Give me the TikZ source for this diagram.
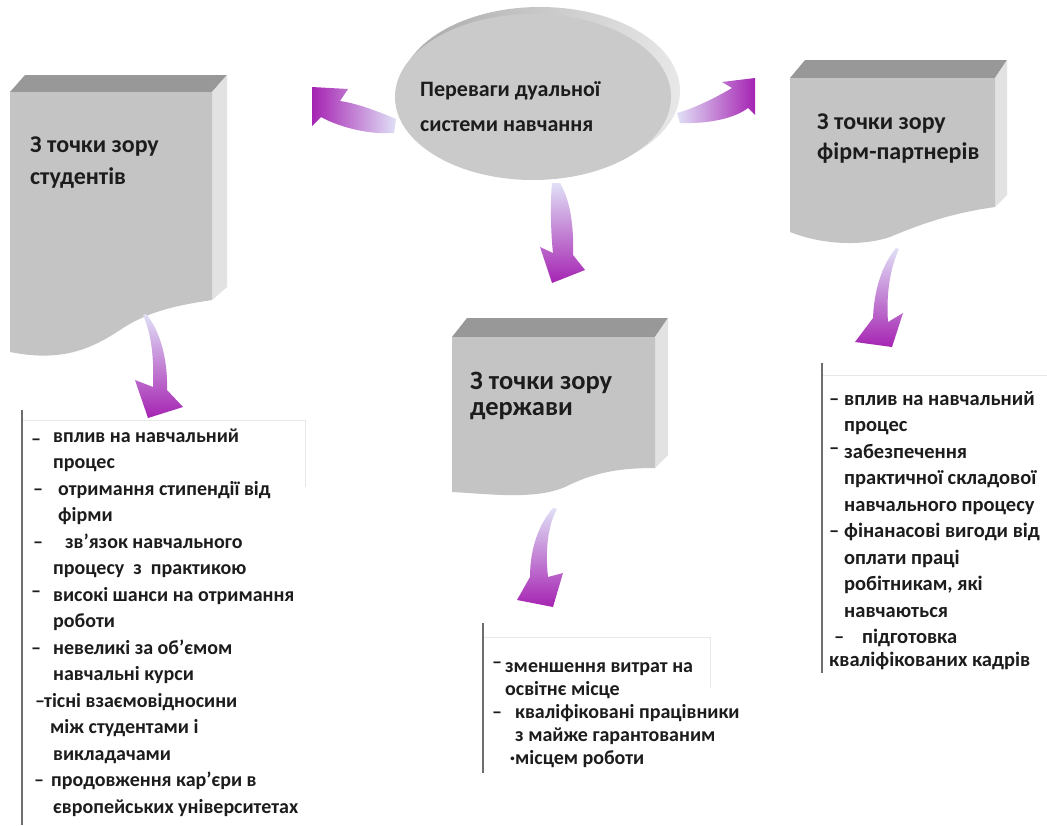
\documentclass[tikz,border=0pt]{standalone}
\usepackage{fontspec}
\setmainfont{Carlito}
\usetikzlibrary{shapes.geometric}
\definecolor{face}{RGB}{196,196,196}
\definecolor{facetop}{RGB}{152,152,152}
\definecolor{faceside}{RGB}{226,226,226}
\definecolor{ellfront}{RGB}{202,202,202}
\definecolor{ellrimA}{RGB}{168,168,168}
\definecolor{ellrimB}{RGB}{232,232,232}
\definecolor{lav}{RGB}{224,224,246}
\definecolor{purp}{RGB}{165,35,178}
\definecolor{txt}{RGB}{28,28,28}
\definecolor{vline}{RGB}{110,110,110}
\definecolor{faint}{RGB}{232,232,232}
\begin{document}
\begin{tikzpicture}[x=1pt,y=-1pt,
  title/.style={font=\fontsize{24}{32}\selectfont\bfseries, text=txt, align=left, anchor=base west, inner sep=0pt},
  listtext/.style={font=\fontsize{20}{26.5}\selectfont\bfseries, text=txt, anchor=base west, inner sep=0pt},
  listsmall/.style={font=\fontsize{20}{23}\selectfont\bfseries, text=txt, anchor=base west, inner sep=0pt},
  frontface/.style={fill=face},
  topface/.style={fill=facetop},
  sideface/.style={fill=faceside},
  leftbar/.style={draw=vline, line width=2.5pt},
  faintline/.style={draw=faint, line width=1pt},
  darr/.style={top color=lav, bottom color=purp},
  larr/.style={left color=purp, right color=lav},
  rarr/.style={left color=lav, right color=purp}]
\useasboundingbox (0,0) rectangle (1047,825);
\fill[white] (0,0) rectangle (1047,825);

% ---------- central ellipse ----------
\shade[left color=ellrimA, right color=ellrimB] (540,91) ellipse [x radius=140, y radius=84];
\node[ellipse, fill=ellfront, minimum width=276pt, minimum height=166pt, inner sep=0pt] (ell) at (533,97) {};
\node[title, font=\fontsize{22}{35}\selectfont\bfseries] (elltext) at (420,131) {Переваги дуальної\\системи навчання};

% ---------- left box ----------
\path[topface] (10,92) -- (25,75) -- (227,75) -- (212,92) -- cycle;
\path[sideface] (212,92) -- (227,75) -- (227,287) -- (212,300) -- cycle;
\path[frontface] (10,92) -- (212,92) -- (212,300)
  .. controls (180,305) and (150,310) .. (120,330)
  .. controls (90,350) and (60,362) .. (10,352) -- cycle;
\node[title] (lefttitle) at (30,184) {З точки зору\\студентів};

% ---------- right box ----------
\path[topface] (790,78) -- (805,60) -- (1007,60) -- (995,78) -- cycle;
\path[sideface] (995,78) -- (1007,60) -- (1007,195) -- (995,207) -- cycle;
\path[frontface] (790,78) -- (995,78) -- (995,207)
  .. controls (960,212) and (930,220) .. (890,237)
  .. controls (860,247) and (820,244) .. (790,232) -- cycle;
\node[title, font=\fontsize{24}{30}\selectfont\bfseries] (righttitle) at (817,159) {З точки зору\\фірм-партнерів};

% ---------- middle box ----------
\path[topface] (452,337) -- (467,318) -- (668,318) -- (655,337) -- cycle;
\path[sideface] (655,337) -- (668,318) -- (668,455) -- (655,468) -- cycle;
\path[frontface] (452,337) -- (655,337) -- (655,468)
  .. controls (620,468) and (595,472) .. (565,487)
  .. controls (535,500) and (490,494) .. (452,492) -- cycle;
\node[title, font=\fontsize{26.5}{26}\selectfont\bfseries] (midtitle) at (470,415) {З точки зору\\держави};

% ---------- arrows ----------
% ellipse -> left
\shade[larr] (396,119) .. controls (375,110) and (355,103) .. (340,101)
  -- (348,89) -- (312,87) -- (312,126) -- (321,117)
  .. controls (335,125) and (365,135) .. (394,133) -- cycle;
% ellipse -> right
\shade[rarr] (677,113) .. controls (695,108) and (715,98) .. (732,88)
  -- (722,82) -- (755,78) -- (755,115) -- (748,108)
  .. controls (735,118) and (710,124) .. (680,123) -- cycle;
% ellipse -> down
\shade[darr] (552,183) .. controls (550,205) and (551,235) .. (553,253)
  -- (540,247) -- (552,283) -- (585,270) -- (573,255)
  .. controls (574,225) and (570,200) .. (560,183) -- cycle;
% left box -> list
\shade[darr] (143,315) .. controls (152,335) and (154,360) .. (153,387)
  -- (135,380) -- (148,418) -- (183,407) -- (167,390)
  .. controls (168,360) and (160,330) .. (146,314) -- cycle;
% middle box -> list
\shade[darr] (553,508) .. controls (538,525) and (530,550) .. (530,577)
  -- (517,600) -- (553,607) -- (563,573) -- (548,577)
  .. controls (545,550) and (548,525) .. (557,509) -- cycle;
% right box -> list
\shade[darr] (896,248) .. controls (882,265) and (874,290) .. (873,318)
  -- (855,342) -- (892,347) -- (903,313) -- (888,322)
  .. controls (886,295) and (890,268) .. (899,249) -- cycle;

% ---------- left list ----------
\path[faintline] (22,420) -- (305,420) -- (305,487);
\path[leftbar] (22,410) -- (22,825);
\node[listtext] (leftlist) at (31,442) {\begin{tabular}[t]{@{}p{22pt}@{}l@{}}
\raisebox{-3pt}{–} & вплив на навчальний\\
 & процес\\
\hspace{2pt}– & \hspace{5pt}отримання стипендії від\\
 & \hspace{5pt}фірми\\
\hspace{2pt}– & \hspace{12pt}зв'язок навчального\\
 & процесу \ з \ практикою\\
\raisebox{4pt}{–} & високі шанси на отримання\\
 & роботи\\
– & невеликі за об'ємом\\
 & навчальні курси\\
\hspace{4pt}– & \hspace{-9pt}тісні взаємовідносини\\
 & \hspace{-3pt}між студентами і\\
 & викладачами\\
\hspace{3pt}– & \hspace{-2pt}продовження кар'єри в\\
 & європейських університетах
\end{tabular}};

% ---------- middle list ----------
\path[faintline] (483,637) -- (710,637) -- (710,688);
\path[leftbar] (483,623) -- (483,773);
\node[listsmall] (midlist) at (492,672) {\begin{tabular}[t]{@{}p{13pt}@{}l@{}}
\raisebox{4pt}{–} & зменшення витрат на\\
 & освітнє місце\\
– & \hspace{10pt}кваліфіковані працівники\\
 & \hspace{10pt}з майже гарантованим\\
 & \hspace{10pt}\llap{·}місцем роботи
\end{tabular}};

% ---------- right list ----------
\path[faintline] (822,375) -- (1047,375);
\path[leftbar] (822,363) -- (822,673);
\node[listtext, font=\fontsize{20.5}{26.5}\selectfont\bfseries] (rightlist) at (829,405) {\begin{tabular}[t]{@{}p{15pt}@{}l@{}}
– & вплив на навчальний\\
 & процес\\
\raisebox{4pt}{–} & забезпечення\\
 & практичної складової\\
 & навчального процесу\\
– & фінанасові вигоди від\\
 & оплати праці\\
 & робітникам, які\\
 & навчаються\\
\makebox[0pt][l]{\hspace{5pt}–} & \hspace{18pt}підготовка\\[-4pt]
\multicolumn{2}{@{}l@{}}{кваліфікованих кадрів}
\end{tabular}};
\end{tikzpicture}
\end{document}
